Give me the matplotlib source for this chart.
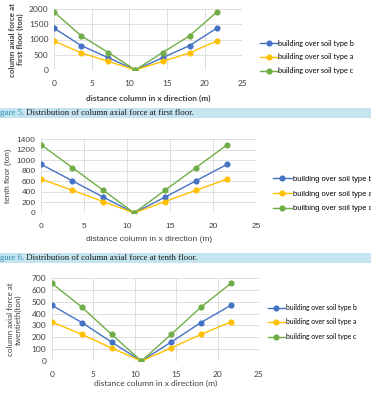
''' column axial force charts (three floors) '''
import matplotlib
matplotlib.use('Agg')
import matplotlib.pyplot as plt
from matplotlib.patches import Rectangle

# data
x_dist = [0, 3.6, 7.2, 10.8, 14.4, 18, 21.6]

first_b = [1370, 800, 400, 0, 400, 800, 1370]
first_a = [950, 560, 280, 0, 280, 560, 950]
first_c = [1900, 1120, 570, 0, 570, 1120, 1900]

tenth_b = [920, 610, 300, 0, 300, 610, 920]
tenth_a = [640, 430, 215, 0, 215, 430, 640]
tenth_c = [1290, 860, 430, 0, 430, 860, 1290]

twentieth_b = [470, 325, 160, 0, 160, 325, 470]
twentieth_a = [330, 225, 110, 0, 110, 225, 330]
twentieth_c = [655, 455, 225, 0, 225, 455, 655]

labels_1 = ['building over soil type b', 'building over soil type a', 'building over soil type c']
labels_2 = ['building over soil type b', 'building over soil type a', 'builbing over soil type c']
labels_3 = labels_1

colors = ['#4472C4', '#FFC000', '#70AD47']

fig = plt.figure(figsize=(3.71, 3.95), dpi=100)


def draw_chart(rect, series, labels, ymax, ystep, ylabel, xlabel, family,
               bold, leg_anchor, leg_size, leg_space, label_x, xlabel_y):
    ax = fig.add_axes(rect)
    # draw c first so b sits on top like the reference
    for order in [2, 0, 1]:
        ax.plot(x_dist, series[order], color=colors[order], marker='o',
                markersize=3.4, linewidth=1.0, label=labels[order],
                zorder=3 + order)
    ax.set_xlim(0, 25)
    ax.set_ylim(0, ymax)
    ax.set_xticks(range(0, 26, 5))
    ax.set_yticks(range(0, ymax + 1, ystep))
    ax.grid(color='#d9d9d9', linewidth=0.6)
    for s in ax.spines.values():
        s.set_visible(False)
    ax.tick_params(length=0, labelsize=6.0, labelcolor='#404040', pad=4)
    ax.tick_params(axis='x', pad=7)
    for t in ax.get_xticklabels() + ax.get_yticklabels():
        t.set_family(family)
    w = 'bold' if bold else 'normal'
    fig.text(label_x, rect[1] + rect[3] / 2, ylabel, rotation=90,
             ha='center', va='center', fontsize=5.8, family=family,
             fontweight=w, color='#404040', linespacing=1.1)
    fig.text(rect[0] + rect[2] / 2, xlabel_y, xlabel, ha='center',
             va='center', fontsize=6.0, family=family, fontweight=w,
             color='#404040')
    handles, labs = ax.get_legend_handles_labels()
    idx = [labs.index(l) for l in labels]
    ax.legend([handles[i] for i in idx], labels, loc='center left',
              bbox_to_anchor=leg_anchor, bbox_transform=fig.transFigure,
              frameon=False, prop={'family': family, 'size': leg_size},
              handlelength=2.5, labelspacing=leg_space, handletextpad=0.1,
              borderaxespad=0, borderpad=0)
    return ax


# chart 1 - first floor
draw_chart([0.146, 0.823, 0.507, 0.154], [first_b, first_a, first_c],
           labels_1, 2000, 500, 'column axial force at\nfirst floor (ton)',
           'distance column in x direction (m)', 'Lato', True,
           (0.70, 0.856), 5.2, 0.95, 0.045, 0.752)

# chart 2 - tenth floor
draw_chart([0.111, 0.461, 0.580, 0.187], [tenth_b, tenth_a, tenth_c],
           labels_2, 1400, 200, 'tenth floor (ton)',
           'distance column in x direction (m)', 'Liberation Sans', False,
           (0.736, 0.509), 5.4, 1.0, 0.022, 0.393)

# chart 3 - twentieth floor
draw_chart([0.140, 0.086, 0.558, 0.210], [twentieth_b, twentieth_a, twentieth_c],
           labels_3, 700, 100, 'column axial force at\ntwentieth(ton)',
           'distance column in x direction (m)', 'Lato', False,
           (0.722, 0.185), 4.9, 1.1, 0.040, 0.030)

# caption bars
for y0, num, rest in [(0.701, 'gure 5.', ' Distribution of column axial force at first floor.'),
                      (0.334, 'gure 6.', ' Distribution of column axial force at tenth floor.')]:
    fig.patches.append(Rectangle((0, y0), 1, 0.026, transform=fig.transFigure,
                                 facecolor='#c4e4ef', edgecolor='none', zorder=0))
    t = fig.text(0.0, y0 + 0.013, num, ha='left', va='center', fontsize=6.3,
                 family='Liberation Serif', color='#2f8fb8')
    fig.canvas.draw()
    bb = t.get_window_extent()
    fig.text(bb.x1 / fig.bbox.width, y0 + 0.013, rest, ha='left', va='center',
             fontsize=6.3, family='Liberation Serif', color='#1a1a1a')

fig.savefig('out.png', dpi=100)
